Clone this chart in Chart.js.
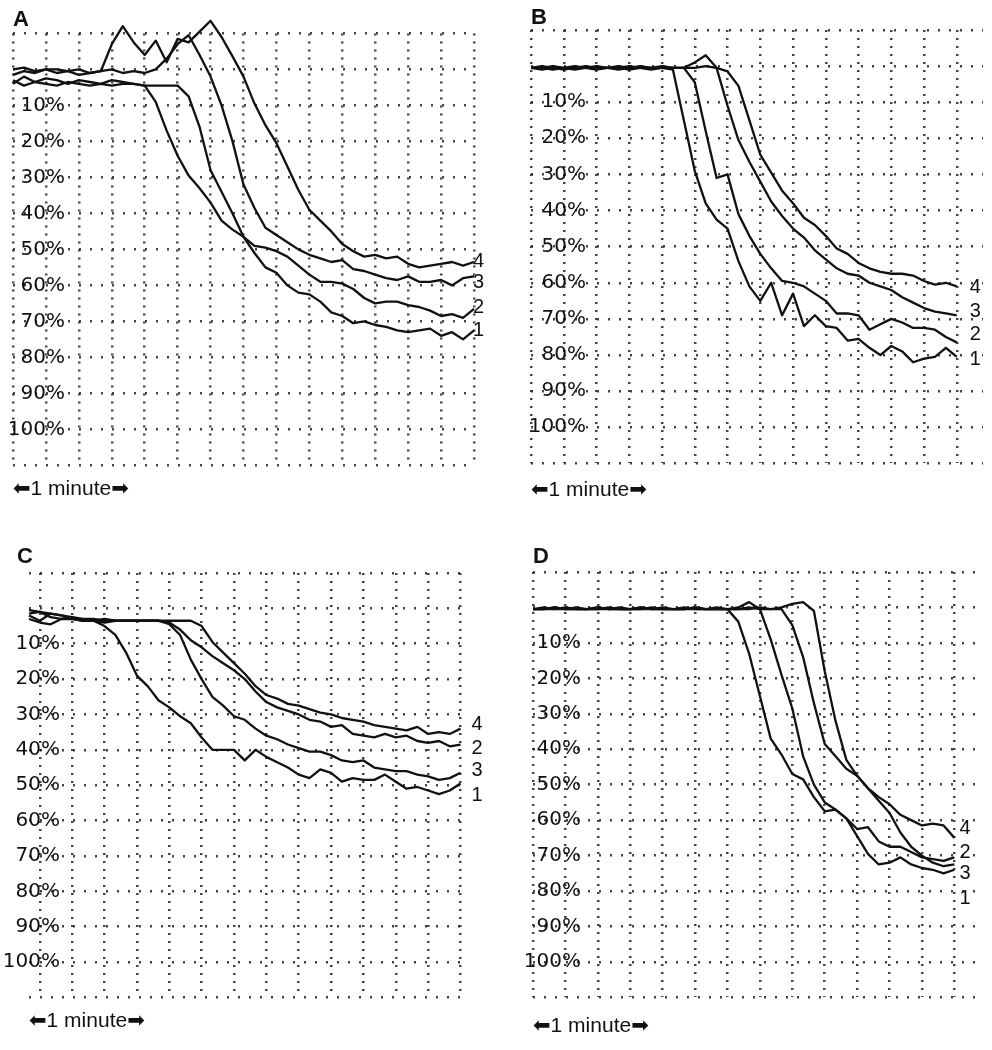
<!DOCTYPE html>
<html lang="en">
<head>
  <meta charset="UTF-8" />
  <title>Traces A-D</title>
  <script src="https://cdn.jsdelivr.net/npm/chart.js"></script>
  <style>
    html, body { margin: 0; padding: 0; background: #fff; }
    body { width: 992px; height: 1050px; position: relative; overflow: hidden; }
    .panel { position: absolute; }
  </style>
</head>
<body>
  <div class="panel" style="left:5px; top:0px; width:491px; height:506px;"><canvas id="chartA"></canvas></div>
  <div class="panel" style="left:523px; top:-3px; width:469px; height:510px;"><canvas id="chartB"></canvas></div>
  <div class="panel" style="left:0px; top:520px; width:487px; height:518px;"><canvas id="chartC"></canvas></div>
  <div class="panel" style="left:520px; top:520px; width:472px; height:523px;"><canvas id="chartD"></canvas></div>

  <script>
    // time in seconds, one grid column = 15 s
    const timeA = [0,5,10,15,20,25,30,35,40,45,50,55,60,65,70,75,80,85,90,95,100,105,110,115,120,125,130,135,140,145,150,155,160,165,170,175,180,185,190,195,200,205,210];
    const timeB = [0,5,10,15,20,25,30,35,40,45,50,55,60,65,70,75,80,85,90,95,100,105,110,115,120,125,130,135,140,145,150,155,160,165,170,175,180,185,190,195];
    const timeC = [-5,0,5,10,15,20,25,30,35,40,45,50,55,60,65,70,75,80,85,90,95,100,105,110,115,120,125,130,135,140,145,150,155,160,165,170,175,180,185,190,195];
    const timeD = timeB;

    // panel A (%)
    const a1 = [4,2,3.5,2.5,3,4,3,3.5,4,3,3.5,4,4.5,9,17,24,29.5,33,37,42,44.5,46.5,51,55,56.5,60,62,62.5,64.5,67.5,68.5,70.5,70,71,71.5,72.5,73,72.5,72,74,73,75,72.5];
    const a2 = [3,4.5,3.5,4,4.5,3.5,4,4.5,4,4.5,4,4,4.5,4.5,4.5,4.5,7.5,16,28,34,40,46.5,49,49.5,50.5,52,54.5,57,59,59,59.5,61,63.5,65,64.5,64.5,65.5,66,67,68.5,68,69,66.5];
    const a3 = [0,-0.5,0.5,0,0,0.5,0,1,0.5,0,1,0.5,1,0,-3,-7,-9.5,-4,2,10,20,32,38.5,44,46,48,50,51.5,52.5,53.5,53,55.5,56,57,58,58.5,57.5,59,59,58.5,60,58,57.5];
    const a4 = [1.5,0.5,1,0,1,0.5,1.5,1,0.5,-7,-12,-7.5,-4,-8,-2,-8.5,-7.5,-10.5,-13.5,-9,-3.6,2,9.5,15.5,20.5,27,33.5,39,42,45,48.5,50.5,52,51.5,52.5,52,54,55,54.5,54,53.5,54.5,53.5];

    // panel B (%)
    const b1 = [0.5,1,0.5,0.5,0,0.5,1,0.5,0.5,0,0.5,0.5,0.5,1,15,29,38,42.5,45,54,61,65,60,69,63,72,69,72,72.5,76,75.5,78,80,77.5,79,82,81,80.5,78,80.5];
    const b2 = [0.5,0.5,1,0.5,0.5,0,0.5,0.5,1,0.5,0,0.5,0.5,0.5,0.5,4.5,18,31,30,41,47,52,56,59.5,60,61,63,65,68.5,68.5,69,73,71.5,70,71,72.5,72.5,73,75,76.5];
    const b3 = [0.5,0,0.5,1,0.5,0.5,0,0.5,0.5,1,0.5,0.5,0,0.5,0.5,-1,-3,0.5,11,20.5,26.5,32,37.5,41.5,45,47.5,51,53.5,56,57.5,58,60,61,62,64,65.5,67,68,68.5,69];
    const b4 = [0.5,0.5,0,0.5,1,0.5,0.5,0.5,0,0.5,0.5,1,0.5,0.5,0.5,0.5,0,0.5,1.5,5.5,15,24.5,29.5,34.5,38,42,44,47,50.5,52,54.5,56,57,57.5,57.5,58,59.5,60.5,60,61];

    // panel C (%)
    const c1 = [2,3.5,1.5,2,3,3.5,3.5,5,7.5,12.5,19,22,26,28,30.5,32.5,36.5,40,40,40,43,40,42,43.5,45,47,48,45.5,46.5,49,48,48.5,48.5,47,49,51,50.5,51.5,52.5,51.5,49.5];
    const c2 = [1.5,1,2.5,3,3,3.5,3.5,3,3.5,3.5,3.5,3.5,3.5,4,6,9,11,13.5,15.5,17.5,20,23.5,26.5,28,29,30,31.5,32,33.5,33,35.5,36,36.5,35.5,36.5,36,37.5,38,37.5,39,38.5];
    const c3 = [3,4,4.5,3,2.5,3.5,3.5,4,3.5,3.5,3.5,3.5,3.5,4.5,7.5,14.5,20,25,27.5,30.5,31.5,34,36,37,38.5,39.5,40.5,40.5,41.5,43,43.5,43,45,45.5,46,46,47,47.5,48.5,48,46.5];
    const c4 = [0.5,1,1.5,2,2.5,3,3,3.5,3.5,3.5,3.5,3.5,3.5,3.5,3.5,3.5,5,9.5,12.5,15.5,18.5,22,24.5,25.5,27,27.5,28.5,29.5,30,31,31.5,32,33,33.5,34,34.5,33.5,35.5,35,35.5,34];

    // panel D (%)
    const d1 = [0.5,0,0.5,0.5,0,0.5,0.5,0,0.5,0.5,0,0.5,0.5,0.5,0,0.5,0.5,0.5,0.5,4,13,25,37,41.5,47,48.5,53.5,57.5,57,59.5,64.5,69.5,72.5,72,70.5,72.5,73.5,74,75,74];
    const d2 = [0.5,0.5,0,0.5,0.5,0.5,0,0.5,0.5,0.5,0,0.5,0.5,0.5,0.5,0,0.5,0.5,0.5,0,-1.5,0.5,9,19,28.5,42,50,55,57,59.5,62.5,62,66,67.5,67.5,69,70.5,71,71.5,70.5];
    const d3 = [0.5,0.5,0.5,0,0.5,0.5,0.5,0.5,0,0.5,0.5,0.5,0,0.5,0.5,0.5,0.5,0,0.5,0.5,0.5,0,0.5,0.5,5,14,27,38.5,42,45.5,47.5,51,54.5,58,63.5,67.5,70,72,73,72.5];
    const d4 = [0.5,0.5,0,0.5,0.5,0.5,0,0.5,0.5,0.5,0.5,0,0.5,0.5,0.5,0,0.5,0.5,0.5,0.5,0,0.5,0.5,0,-1,-1.5,1,18,32,43,47.5,51,53.5,55.5,58.5,60,61.5,61,61.5,65];

    // where the curve numbers sit on the y scale (series 1..4)
    const tagsA = [72.6, 66.1, 59.3, 53.3];
    const tagsB = [81.3, 74.3, 67.9, 61.4];
    const tagsC = [52.9, 39.7, 45.8, 32.8];
    const tagsD = [82.2, 69, 75.1, 62.4];

    const seriesNames = ['1', '2', '3', '4'];
    const yTicks = [-10, 0, 10, 20, 30, 40, 50, 60, 70, 80, 90, 100, 110];
    const xTicksA = [0, 15, 30, 45, 60, 75, 90, 105, 120, 135, 150, 165, 180, 195, 210];
    const xTicks = [0, 15, 30, 45, 60, 75, 90, 105, 120, 135, 150, 165, 180, 195];

    const FONT = "'Liberation Sans', Arial, 'DejaVu Sans', sans-serif";
    const TICK_FONT = "'DejaVu Sans', 'Liberation Sans', sans-serif";
    const INK = '#111';
    const DOTS = 'rgba(35,35,35,0.85)';

    // draws the 1-4 curve numbers at the right end of each trace
    const tagPlugin = {
      id: 'tags',
      afterDatasetsDraw(chart, args, opts) {
        const ctx = chart.ctx;
        const yScale = chart.scales.y;
        ctx.save();
        ctx.font = '20px ' + FONT;
        ctx.fillStyle = INK;
        ctx.textAlign = 'left';
        ctx.textBaseline = 'middle';
        chart.data.datasets.forEach((ds, i) => {
          const pts = chart.getDatasetMeta(i).data;
          const last = pts[pts.length - 1];
          ctx.fillText(ds.label, last.x + opts.dx, yScale.getPixelForValue(opts.values[i]));
        });
        ctx.restore();
      }
    };

    function makePanel(id, p) {
      const datasets = p.series.map((vals, i) => ({
        label: seriesNames[i],
        data: p.time.map((t, j) => ({ x: t, y: vals[j] })),
        borderColor: INK,
        borderWidth: 2.3,
        pointRadius: 0,
        tension: 0,
        clip: false,
        borderJoinStyle: 'round'
      }));

      return new Chart(document.getElementById(id), {
        type: 'line',
        data: { datasets },
        plugins: [tagPlugin],
        options: {
          responsive: true,
          maintainAspectRatio: false,
          animation: false,
          events: [],
          devicePixelRatio: 1,
          layout: { padding: { left: p.padLeft, top: 0, bottom: 0, right: p.padRight } },
          plugins: {
            legend: { display: false },
            tooltip: { enabled: false },
            title: {
              display: true,
              text: p.letter,
              align: 'start',
              color: INK,
              font: { family: FONT, size: 22, weight: 'bold' },
              padding: p.titlePad
            },
            tags: { values: p.tags, dx: p.tagDx }
          },
          scales: {
            x: {
              type: 'linear',
              min: p.xMin,
              max: p.xMax,
              afterBuildTicks: s => { s.ticks = p.xTicks.map(v => ({ value: v })); },
              afterFit: s => { s.paddingLeft = 0; s.paddingRight = 0; },
              ticks: { display: false },
              grid: { color: DOTS, lineWidth: 2.5, drawTicks: false },
              border: { display: false, dash: [2, 6] },
              title: {
                display: true,
                text: '\u2B051 minute\u27A1',
                align: 'start',
                color: INK,
                font: { family: FONT, size: 21 },
                padding: { top: p.minutePad, bottom: 4 }
              }
            },
            y: {
              type: 'linear',
              reverse: true,
              min: -10,
              max: 110,
              afterBuildTicks: s => { s.ticks = yTicks.map(v => ({ value: v })); },
              afterFit: s => { s.width = p.yWidth; s.paddingTop = 0; s.paddingBottom = 0; },
              ticks: {
                mirror: true,
                crossAlign: 'far',
                padding: p.labelPad,
                autoSkip: false,
                color: INK,
                font: { family: TICK_FONT, size: 20 },
                callback: v => (v >= 10 && v <= 100) ? v + '%' : ''
              },
              grid: { color: DOTS, lineWidth: 2.5, drawTicks: false },
              border: { display: false, dash: [2, 9] }
            }
          }
        }
      });
    }

    makePanel('chartA', {
      letter: 'A', time: timeA, series: [a1, a2, a3, a4], tags: tagsA, tagDx: -1,
      xMin: 0, xMax: 210, xTicks: xTicksA, padLeft: 8, padRight: 22, yWidth: 0, labelPad: -5.2,
      titlePad: { top: 7, bottom: 0 }, minutePad: 11.4
    });
    makePanel('chartB', {
      letter: 'B', time: timeB, series: [b1, b2, b3, b4], tags: tagsB, tagDx: 13,
      xMin: 0, xMax: 207, xTicks: xTicks, padLeft: 8, padRight: 9, yWidth: 0, labelPad: -2.2,
      titlePad: { top: 8, bottom: -1.5 }, minutePad: 14.4
    });
    makePanel('chartC', {
      letter: 'C', time: timeC, series: [c1, c2, c3, c4], tags: tagsC, tagDx: 11,
      xMin: -5, xMax: 198, xTicks: xTicks, padLeft: 17, padRight: 20, yWidth: 12, labelPad: -26.2,
      titlePad: { top: 23.8, bottom: 2.8 }, minutePad: 11.4
    });
    makePanel('chartD', {
      letter: 'D', time: timeD, series: [d1, d2, d3, d4], tags: tagsD, tagDx: 5,
      xMin: 0, xMax: 205, xTicks: xTicks, padLeft: 13, padRight: 16, yWidth: 0, labelPad: -9.2,
      titlePad: { top: 23.8, bottom: 1.8 }, minutePad: 16.4
    });
  </script>
</body>
</html>
